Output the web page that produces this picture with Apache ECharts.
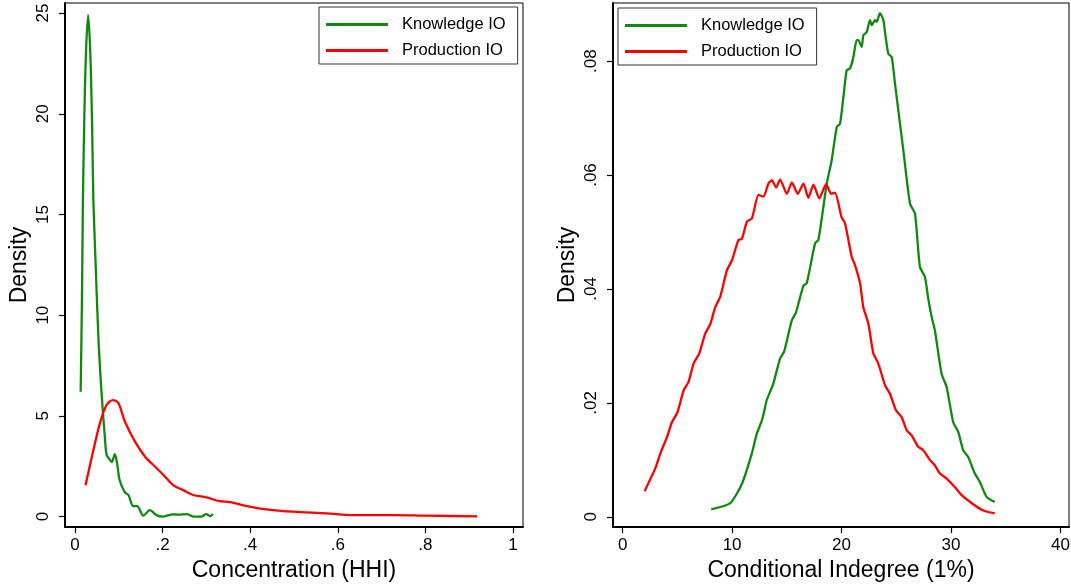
<!DOCTYPE html>
<html>
<head>
<meta charset="utf-8">
<script src="https://cdn.jsdelivr.net/npm/echarts@6/dist/echarts.min.js"></script>
<style>
  html, body { margin: 0; padding: 0; background: #fff; }
  #chart { width: 1071px; height: 584px; }
</style>
</head>
<body>
<div id="chart"></div>
<script>
// left panel: Concentration (HHI)
const knowHhiX = [0.013, 0.016, 0.018, 0.021, 0.025, 0.030, 0.035, 0.039, 0.042, 0.046, 0.053, 0.057, 0.063, 0.068, 0.072, 0.078, 0.084, 0.091, 0.096, 0.102, 0.114, 0.122, 0.133, 0.142, 0.156, 0.171, 0.186, 0.201, 0.224, 0.236, 0.255, 0.270, 0.289, 0.300, 0.309, 0.315]
const knowHhiY = [6.2, 11, 15.5, 19.5, 23, 24.9, 23, 19.5, 15.7, 13.2, 9.1, 7.4, 5.4, 4.0, 3.07, 2.87, 2.7, 3.1, 2.65, 1.8, 1.2, 1.07, 0.52, 0.52, 0.04, 0.32, 0.07, 0.0, 0.11, 0.09, 0.12, 0.0, 0.0, 0.12, 0.02, 0.12]
const prodHhiX = [0.024, 0.042, 0.057, 0.072, 0.087, 0.099, 0.114, 0.137, 0.160, 0.183, 0.202, 0.224, 0.247, 0.270, 0.300, 0.327, 0.354, 0.392, 0.437, 0.498, 0.574, 0.635, 0.726, 0.802, 0.918]
const prodHhiY = [1.55, 3.3, 4.64, 5.54, 5.78, 5.64, 4.71, 3.72, 2.97, 2.47, 2.06, 1.56, 1.31, 1.07, 0.95, 0.78, 0.71, 0.52, 0.36, 0.24, 0.16, 0.07, 0.07, 0.04, 0.01]

// right panel: Conditional Indegree (1%)
const knowIndX = [8.09, 9.83, 10.9, 11.8, 12.26, 12.77, 13.17, 13.72, 14.39, 14.75, 15.46, 15.82, 16.52, 16.82, 17.58, 17.88, 18.34, 18.65, 19.1, 19.56, 19.86, 20.17, 20.47, 20.77, 21.08, 21.38, 21.53, 21.84, 21.99, 22.3, 22.6, 22.76, 23.06, 23.21, 23.51, 23.82, 23.97, 24.27, 24.58, 24.88, 25.34, 25.64, 26.25, 26.71, 27.16, 27.62, 27.92, 28.23, 28.53, 29.14, 29.6, 30.2, 30.66, 31.11, 31.57, 32.18, 32.64, 33.25, 34.0]
const knowIndY = [0.0013, 0.0024, 0.0058, 0.0111, 0.0146, 0.0172, 0.0205, 0.0231, 0.0278, 0.0290, 0.0345, 0.0358, 0.0406, 0.0410, 0.0480, 0.0486, 0.0544, 0.0585, 0.0626, 0.0684, 0.0690, 0.0737, 0.0784, 0.0787, 0.0807, 0.0837, 0.0837, 0.0825, 0.0845, 0.0851, 0.0872, 0.0863, 0.0872, 0.0869, 0.0884, 0.0872, 0.0851, 0.0813, 0.0807, 0.0761, 0.0690, 0.0644, 0.0550, 0.0532, 0.0439, 0.0421, 0.0383, 0.0351, 0.0327, 0.0251, 0.0228, 0.0166, 0.0149, 0.0117, 0.0105, 0.0076, 0.0061, 0.0035, 0.0026]
const prodIndX = [2.0, 2.98, 3.44, 4.05, 4.5, 5.02, 5.57, 6.02, 6.48, 7.0, 7.55, 8.0, 8.46, 8.91, 9.53, 9.98, 10.58, 10.9, 11.35, 11.81, 12.41, 12.86, 13.32, 13.63, 14.02, 14.39, 15.0, 15.46, 16.0, 16.52, 16.97, 17.43, 17.97, 18.59, 19.05, 19.4, 20.0, 20.32, 20.93, 21.23, 21.69, 21.99, 22.45, 22.9, 23.36, 23.97, 24.42, 24.97, 25.49, 25.95, 26.4, 27.0, 27.46, 28.07, 28.53, 28.99, 29.6, 30.36, 30.97, 32.03, 32.94, 34.0]
const prodIndY = [0.0045, 0.0085, 0.0111, 0.0140, 0.0166, 0.0184, 0.0222, 0.0237, 0.0269, 0.0287, 0.0322, 0.0338, 0.0368, 0.0386, 0.0433, 0.0450, 0.0486, 0.0488, 0.0518, 0.0524, 0.0565, 0.0562, 0.0585, 0.0591, 0.0578, 0.0592, 0.0567, 0.0587, 0.0567, 0.0585, 0.0560, 0.0583, 0.0559, 0.0584, 0.0567, 0.0569, 0.0526, 0.0515, 0.0456, 0.0442, 0.0410, 0.0368, 0.0339, 0.0287, 0.0269, 0.0231, 0.0216, 0.0187, 0.0175, 0.0152, 0.0143, 0.0123, 0.0117, 0.0100, 0.0090, 0.0076, 0.0067, 0.0052, 0.0038, 0.0022, 0.0011, 0.0006]

const hhiTicks = [0, 0.2, 0.4, 0.6, 0.8, 1]
const hhiDensityTicks = [0, 5, 10, 15, 20, 25]
const indTicks = [0, 10, 20, 30, 40]
const indDensityTicks = [0, 0.02, 0.04, 0.06, 0.08]

const seriesNames = ['Knowledge IO', 'Production IO']
const green = '#118811'
const red = '#ff0000'
const font = 'Liberation Sans, Arial, Helvetica, sans-serif'

const zip = (xs, ys) => xs.map((x, i) => [x, ys[i]])
// stata style: drop the leading zero, ".2"
const stataFmt = v => (v === 0 ? '0' : String(+v.toFixed(4)).replace(/^0\./, '.'))

const makeXAxis = (gridIndex, min, max, ticks, name) => ({
  type: 'value',
  gridIndex,
  min,
  max,
  name,
  nameLocation: 'middle',
  nameGap: 25,
  nameTextStyle: { fontFamily: font, fontSize: 23, color: '#000' },
  axisLine: { show: true, onZero: false, lineStyle: { color: '#000', width: 2 } },
  axisTick: { show: true, length: 6, customValues: ticks, lineStyle: { color: '#000', width: 1.2 } },
  axisLabel: { customValues: ticks, formatter: stataFmt, margin: 10, fontFamily: font, fontSize: 17, color: '#000' },
  splitLine: { show: false }
})

const makeYAxis = (gridIndex, min, max, ticks) => ({
  type: 'value',
  gridIndex,
  min,
  max,
  name: 'Density',
  nameLocation: 'middle',
  nameGap: 34,
  nameTextStyle: { fontFamily: font, fontSize: 23, color: '#000' },
  axisLine: { show: true, onZero: false, lineStyle: { color: '#000', width: 2 } },
  axisTick: { show: true, length: 6, customValues: ticks, lineStyle: { color: '#000', width: 1.2 } },
  axisLabel: { customValues: ticks, formatter: stataFmt, rotate: 90, margin: 13, fontFamily: font, fontSize: 17, color: '#000' },
  splitLine: { show: false }
})

const makeLegend = (left, top) => ({
  left,
  top,
  orient: 'vertical',
  data: seriesNames,
  icon: 'rect',
  itemWidth: 62,
  itemHeight: 3,
  itemGap: 9,
  padding: [9, 12, 5, 7],
  borderColor: '#333',
  borderWidth: 1,
  selectedMode: false,
  textStyle: { fontFamily: font, fontSize: 16.5, color: '#000', padding: [0, 0, 0, 9] }
})

const makeLine = (name, color, data, xi, smooth) => ({
  name,
  type: 'line',
  xAxisIndex: xi,
  yAxisIndex: xi,
  data,
  smooth,
  symbol: 'none',
  itemStyle: { color },
  lineStyle: { color, width: 2.3 }
})

const chart = echarts.init(document.getElementById('chart'))

chart.setOption({
  animation: false,
  backgroundColor: '#fff',
  grid: [
    { left: 65, top: 3, width: 458, height: 524, show: true, borderColor: '#000', borderWidth: 1, backgroundColor: 'transparent', outerBoundsMode: 'none' },
    { left: 613, top: 3, width: 456, height: 524, show: true, borderColor: '#000', borderWidth: 1, backgroundColor: 'transparent', outerBoundsMode: 'none' }
  ],
  legend: [makeLegend(319, 7), makeLegend(618, 8)],
  xAxis: [
    makeXAxis(0, -0.0228, 1.0228, hhiTicks, 'Concentration (HHI)'),
    makeXAxis(1, -0.88, 40.78, indTicks, 'Conditional Indegree (1%)')
  ],
  yAxis: [
    makeYAxis(0, -0.52, 25.5, hhiDensityTicks),
    makeYAxis(1, -0.00179, 0.0902, indDensityTicks)
  ],
  series: [
    makeLine(seriesNames[0], green, zip(knowHhiX, knowHhiY), 0, 0.3),
    makeLine(seriesNames[1], red, zip(prodHhiX, prodHhiY), 0, 0.3),
    makeLine(seriesNames[0], green, zip(knowIndX, knowIndY), 1, 0.2),
    makeLine(seriesNames[1], red, zip(prodIndX, prodIndY), 1, 0.2)
  ]
})
</script>
</body>
</html>
